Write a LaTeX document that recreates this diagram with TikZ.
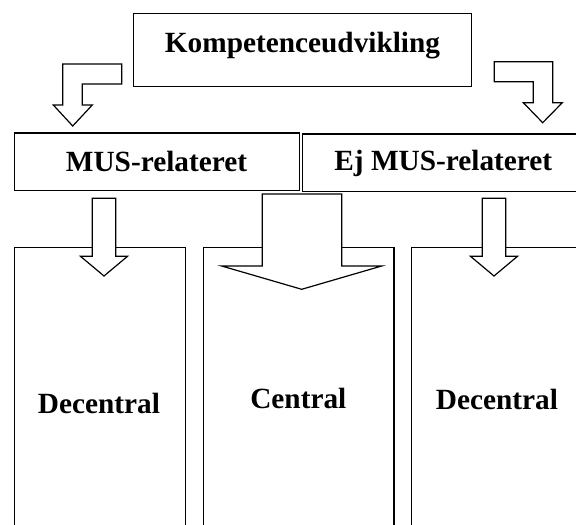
\documentclass[tikz,border=0pt]{standalone}
\usepackage{fontspec}
\setmainfont{Liberation Serif}
\tikzset{
    boks/.style={draw, line width=1.2pt, fill=white, inner sep=0pt, anchor=north west},
    blokpil/.style={draw, line width=1.2pt, fill=white, line join=miter},
    tekst/.style={font=\fontsize{29.3}{35}\selectfont\bfseries, anchor=base, inner sep=0pt}
}
\begin{document}
\begin{tikzpicture}[x=1pt, y=-1pt]
            \useasboundingbox (0, 0) rectangle (576, 525);

            % kolonner
            \node[boks, minimum width=171, minimum height=330] (kolV) at (14, 246.7) {};
            \node[boks, minimum width=190.6, minimum height=330] (kolM) at (202.7, 246.7) {};
            \node[boks, minimum width=172, minimum height=330] (kolH) at (411, 246.7) {};

            % kasser
            \node[boks, minimum width=338, minimum height=73] (komp) at (133, 13) {};
            \node[boks, minimum width=285, minimum height=57.7] (mus) at (14, 132.3) {};
            \node[boks, minimum width=282, minimum height=57.4] (ejmus) at (302, 133.3) {};

            % tekster
            \node[tekst] (kompT) at (302.5, 52.7) {Kompetenceudvikling};
            \node[tekst] (musT) at (156.5, 171) {MUS-relateret};
            \node[tekst] (ejmusT) at (443.3, 170.7) {Ej MUS-relateret};
            \node[tekst] (kolVT) at (99, 413) {Decentral};
            \node[tekst] (kolMT) at (298.3, 408.7) {Central};
            \node[tekst] (kolHT) at (497, 409.4) {Decentral};

            % knaekpile
            \draw[blokpil] (121.7, 64) -- (62.7, 64) -- (62.7, 105) -- (53.3, 105) -- (72.7, 126)
                -- (92.3, 105) -- (82.3, 105) -- (82.3, 84) -- (121.7, 84) -- cycle;   %  komp -- mus
            \draw[blokpil] (494.3, 61.7) -- (552.7, 61.7) -- (552.7, 102.7) -- (562.3, 102.7) -- (542.7, 122.7)
                -- (523.3, 102.7) -- (533.3, 102.7) -- (533.3, 81.7) -- (494.3, 81.7) -- cycle; %  komp -- ejmus

            % nedpile
            \foreach \cx in {104, 494}
                \draw[blokpil] (\cx-11.7, 198.3) -- (\cx+11.7, 198.3) -- (\cx+11.7, 256.3) -- (\cx+23.5, 256.3)
                    -- (\cx, 276) -- (\cx-23.5, 256.3) -- (\cx-11.7, 256.3) -- cycle;
            \draw[blokpil] (262.3, 194) -- (341.7, 194) -- (341.7, 266) -- (381.7, 266) -- (301.7, 289.3)
                -- (221.7, 266) -- (262.3, 266) -- cycle;                           %  mus/ejmus -- kolM
        \end{tikzpicture}
\end{document}
